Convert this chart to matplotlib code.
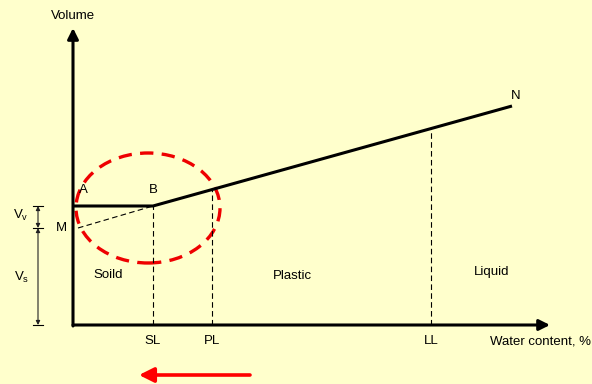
import matplotlib

matplotlib.use("Agg")
import matplotlib.pyplot as plt
from matplotlib.patches import Ellipse

plt.rcParams["font.family"] = ["Liberation Sans", "DejaVu Sans"]

# diagram points (water content, volume) in arbitrary units
limit_names = ["SL", "PL", "LL"]
limit_water = [80, 139, 358]
point_names = ["A", "B", "N"]
point_water = [0, 80, 439]
point_volume = [119, 119, 219]
m_water, m_volume = 5, 97
zone_names = ["Soild", "Plastic", "Liquid"]
zone_water = [35, 219, 419]
zone_volume = [50, 49, 53]

BG = "#FFFFCC"
FS = 9.5


def line_volume(w):
    """Volume on the B-N line at water content w."""
    (w0, w1), (v0, v1) = point_water[1:], point_volume[1:]
    return v0 + (w - w0) * (v1 - v0) / (w1 - w0)


def main():
    fig = plt.figure(figsize=(5.92, 3.84), dpi=100, facecolor=BG)
    ax = fig.add_axes([0, 0, 1, 1])
    ax.set_facecolor(BG)
    ax.set_xlim(-73, 519)
    ax.set_ylim(-59, 325)
    ax.axis("off")

    # axes with arrows
    ax.annotate("", xy=(477, 0), xytext=(0, 0),
                arrowprops=dict(arrowstyle="-|>", lw=2.2, color="black",
                                mutation_scale=16, shrinkA=0, shrinkB=0))
    ax.annotate("", xy=(0, 297), xytext=(0, -1),
                arrowprops=dict(arrowstyle="-|>", lw=2.2, color="black",
                                mutation_scale=16, shrinkA=0, shrinkB=0))
    ax.text(0, 309, "Volume", ha="center", va="center", fontsize=FS)
    ax.text(417, -16, "Water content, %", ha="left", va="center", fontsize=FS)

    # A-B-N
    ax.plot(point_water, point_volume, color="black", lw=2.2,
            solid_capstyle="butt", solid_joinstyle="miter")
    ax.plot([m_water, point_water[1]], [m_volume, point_volume[1]],
            color="black", lw=0.8, ls=(0, (5, 3)))
    offsets = {"A": (10, 16), "B": (0, 16), "N": (4, 10)}
    for name, w, v in zip(point_names, point_water, point_volume):
        dx, dy = offsets[name]
        ax.text(w + dx, v + dy, name, ha="center", va="center", fontsize=FS)
    ax.text(-12, m_volume, "M", ha="center", va="center", fontsize=FS)

    # limits
    for name, w in zip(limit_names, limit_water):
        ax.plot([w, w], [0, line_volume(w)], color="black", lw=0.8,
                ls=(0, (5, 3)))
        ax.text(w, -16, name, ha="center", va="center", fontsize=FS)

    for name, w, v in zip(zone_names, zone_water, zone_volume):
        ax.text(w, v, name, ha="center", va="center", fontsize=FS)

    # Vv / Vs dimensions
    dim_x = -35
    for lo, hi in [(m_volume, point_volume[1]), (0, m_volume)]:
        ax.annotate("", xy=(dim_x, hi), xytext=(dim_x, lo),
                    arrowprops=dict(arrowstyle="<|-|>", lw=0.8, color="#222222",
                                    mutation_scale=6, shrinkA=0, shrinkB=0))
    for v in [0, m_volume, point_volume[1]]:
        ax.plot([dim_x - 5, dim_x + 5], [v, v], color="black", lw=0.8)
    ax.text(-52, 110, r"$\mathregular{V_v}$", ha="center", va="center", fontsize=FS)
    ax.text(-51, 48, r"$\mathregular{V_s}$", ha="center", va="center", fontsize=FS)

    # red dashed ellipse
    ax.add_patch(Ellipse((75, 117), 144, 110, fill=False, ec="#EE0000",
                         lw=2.4, ls=(0, (4, 2.5))))

    # red arrow
    ax.annotate("", xy=(66, -50), xytext=(177, -50),
                arrowprops=dict(arrowstyle="-|>", lw=2.6, color="#FF0000",
                                mutation_scale=22, shrinkA=0, shrinkB=0))

    fig.savefig("out.png", dpi=100, facecolor=BG)


if __name__ == "__main__":
    main()
